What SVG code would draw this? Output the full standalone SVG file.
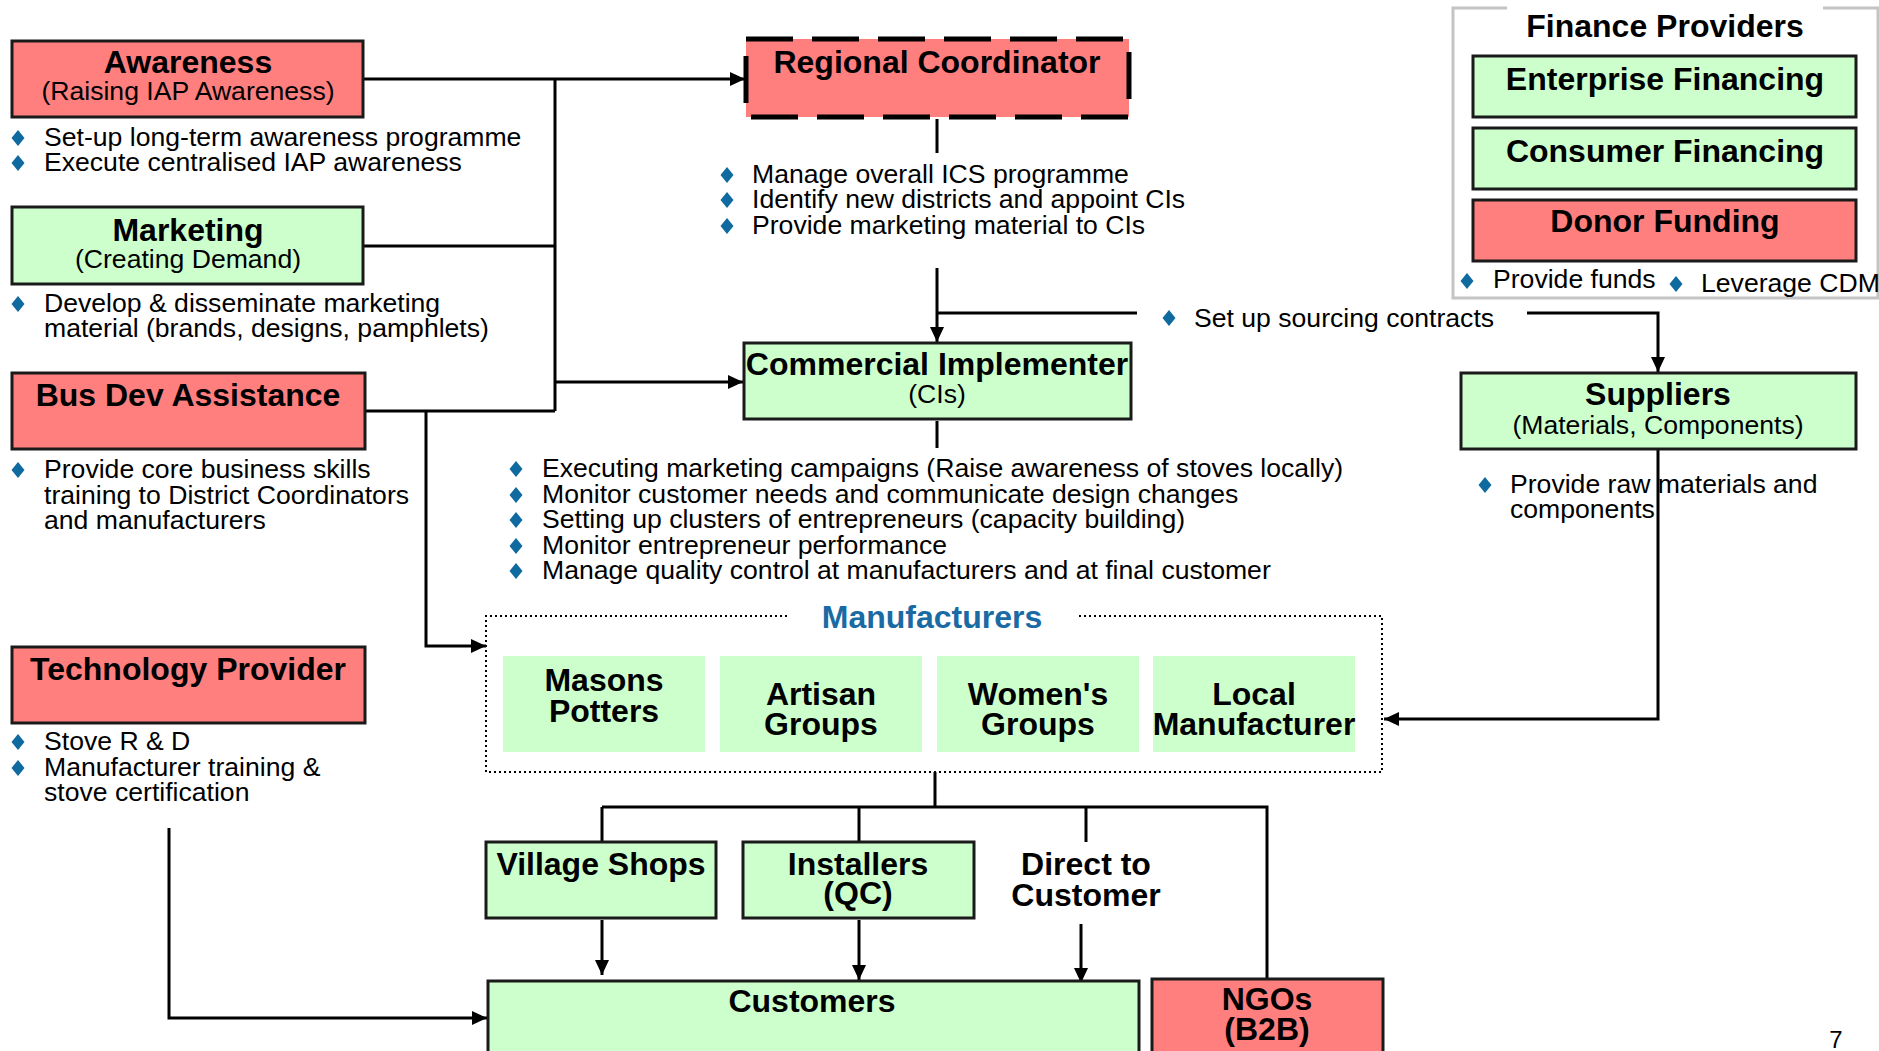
<svg xmlns="http://www.w3.org/2000/svg" xmlns:xlink="http://www.w3.org/1999/xlink" width="1879" height="1051" viewBox="0 0 1879 1051">
<style>
text{font-family:"Liberation Sans",Arial,sans-serif;fill:#000}
.h{font-size:32px;font-weight:bold;text-anchor:middle}
.s{font-size:26.6px;text-anchor:middle}
.b{font-size:26.6px}
.red{fill:#ff7f7f;stroke:#1a1a1a;stroke-width:3}
.grn{fill:#ccffcc;stroke:#1a1a1a;stroke-width:3}
.mf{fill:#ccffcc;stroke:none}
.ln{fill:none;stroke:#000;stroke-width:3}
.la{fill:none;stroke:#000;stroke-width:3;marker-end:url(#ah)}
.dm{fill:#0f6aa0}
</style>
<defs>
<marker id="ah" markerUnits="userSpaceOnUse" markerWidth="15" markerHeight="14" refX="15" refY="7" orient="auto"><path d="M0,0 L15,7 L0,14 Z" fill="#000"/></marker>
<path id="dia" d="M0,-8 L6.5,0 L0,8 L-6.5,0 Z"/>
</defs>
<rect width="1879" height="1051" fill="#fff"/>

<g id="connectors">
<path class="la" d="M363,79 H745"/>
<path class="ln" d="M363,246 H555"/>
<path class="ln" d="M555,79 V411"/>
<path class="ln" d="M365,411 H555"/>
<path class="la" d="M555,382 H743"/>
<path class="la" d="M426,411 V646 H486"/>
<path class="ln" d="M937,119 V153"/>
<path class="la" d="M937,268 V342"/>
<path class="ln" d="M937,313 H1137"/>
<path class="la" d="M1527,313 H1658 V372"/>
<path class="la" d="M1658,449 V719 H1384"/>
<path class="ln" d="M937,421 V448"/>
<path class="ln" d="M935,772 V807"/>
<path class="ln" d="M602,807 H1267 V979"/>
<path class="ln" d="M602,807 V842"/>
<path class="ln" d="M859,807 V842"/>
<path class="ln" d="M1086,807 V842"/>
<path class="la" d="M602,920 V975"/>
<path class="la" d="M859,920 V980"/>
<path class="la" d="M1081,924 V983"/>
<path class="la" d="M169,828 V1018 H487"/>
</g>

<g id="awareness">
<rect class="red" x="12" y="41" width="351" height="76"/>
<text class="h" x="188" y="73">Awareness</text>
<text class="s" x="188" y="100">(Raising IAP Awareness)</text>
<use href="#dia" class="dm" x="18" y="138"/>
<text class="b" x="44" y="146">Set-up long-term awareness programme</text>
<use href="#dia" class="dm" x="18" y="163"/>
<text class="b" x="44" y="171">Execute centralised IAP awareness</text>
</g>

<g id="marketing">
<rect class="grn" x="12" y="207" width="351" height="77"/>
<text class="h" x="188" y="241">Marketing</text>
<text class="s" x="188" y="268">(Creating Demand)</text>
<use href="#dia" class="dm" x="18" y="304"/>
<text class="b" x="44" y="312">Develop &amp; disseminate marketing</text>
<text class="b" x="44" y="337">material (brands, designs, pamphlets)</text>
</g>

<g id="busdev">
<rect class="red" x="12" y="373" width="353" height="76"/>
<text class="h" x="188" y="406">Bus Dev Assistance</text>
<use href="#dia" class="dm" x="18" y="470"/>
<text class="b" x="44" y="478">Provide core business skills</text>
<text class="b" x="44" y="504">training to District Coordinators</text>
<text class="b" x="44" y="529">and manufacturers</text>
</g>

<g id="techprovider">
<rect class="red" x="12" y="647" width="353" height="76"/>
<text class="h" x="188" y="680">Technology Provider</text>
<use href="#dia" class="dm" x="18" y="742"/>
<text class="b" x="44" y="750">Stove R &amp; D</text>
<use href="#dia" class="dm" x="18" y="768"/>
<text class="b" x="44" y="776">Manufacturer training &amp;</text>
<text class="b" x="44" y="801">stove certification</text>
</g>

<g id="regional">
<rect x="746" y="39" width="383" height="78" fill="#ff7f7f" stroke="#000" stroke-width="5" stroke-dasharray="47 19"/>
<text class="h" x="937" y="73">Regional Coordinator</text>
<use href="#dia" class="dm" x="727" y="175"/>
<text class="b" x="752" y="183">Manage overall ICS programme</text>
<use href="#dia" class="dm" x="727" y="200"/>
<text class="b" x="752" y="208">Identify new districts and appoint CIs</text>
<use href="#dia" class="dm" x="727" y="226"/>
<text class="b" x="752" y="234">Provide marketing material to CIs</text>
</g>

<g id="sourcing">
<use href="#dia" class="dm" x="1169" y="318"/>
<text class="b" x="1194" y="327">Set up sourcing contracts</text>
</g>

<g id="commercial">
<rect class="grn" x="744" y="343" width="387" height="76"/>
<text class="h" x="937" y="375">Commercial Implementer</text>
<text class="s" x="937" y="403">(CIs)</text>
<use href="#dia" class="dm" x="516" y="469"/>
<text class="b" x="542" y="477">Executing marketing campaigns (Raise awareness of stoves locally)</text>
<use href="#dia" class="dm" x="516" y="495"/>
<text class="b" x="542" y="503">Monitor customer needs and communicate design changes</text>
<use href="#dia" class="dm" x="516" y="520"/>
<text class="b" x="542" y="528">Setting up clusters of entrepreneurs (capacity building)</text>
<use href="#dia" class="dm" x="516" y="546"/>
<text class="b" x="542" y="554">Monitor entrepreneur performance</text>
<use href="#dia" class="dm" x="516" y="571"/>
<text class="b" x="542" y="579">Manage quality control at manufacturers and at final customer</text>
</g>

<g id="finance">
<path d="M1507,8 H1453 V298 H1878 V8 H1823" fill="none" stroke="#c4c4c4" stroke-width="3"/>
<text class="h" x="1665" y="37">Finance Providers</text>
<rect class="grn" x="1473" y="56" width="383" height="61"/>
<text class="h" x="1665" y="90">Enterprise Financing</text>
<rect class="grn" x="1473" y="128" width="383" height="61"/>
<text class="h" x="1665" y="162">Consumer Financing</text>
<rect class="red" x="1473" y="200" width="383" height="61"/>
<text class="h" x="1665" y="232">Donor Funding</text>
<use href="#dia" class="dm" x="1467" y="281"/>
<text class="b" x="1493" y="288">Provide funds</text>
<use href="#dia" class="dm" x="1676" y="284"/>
<text class="b" x="1701" y="292">Leverage CDM</text>
</g>

<g id="suppliers">
<rect class="grn" x="1461" y="373" width="395" height="76"/>
<text class="h" x="1658" y="405">Suppliers</text>
<text class="s" x="1658" y="434">(Materials, Components)</text>
<use href="#dia" class="dm" x="1485" y="485"/>
<text class="b" x="1510" y="493">Provide raw materials and</text>
<text class="b" x="1510" y="518">components</text>
</g>

<g id="manufacturers">
<path d="M787,616 H486 V772 H1382 V616 H1079" fill="none" stroke="#000" stroke-width="2" stroke-dasharray="2 3"/>
<text x="932" y="628" style="font-size:32px;font-weight:bold;text-anchor:middle;fill:#1a6aa3">Manufacturers</text>
<rect class="mf" x="503" y="656" width="202" height="96"/>
<text class="h" x="604" y="691">Masons</text>
<text class="h" x="604" y="722">Potters</text>
<rect class="mf" x="720" y="656" width="202" height="96"/>
<text class="h" x="821" y="705">Artisan</text>
<text class="h" x="821" y="735">Groups</text>
<rect class="mf" x="937" y="656" width="202" height="96"/>
<text class="h" x="1038" y="705">Women's</text>
<text class="h" x="1038" y="735">Groups</text>
<rect class="mf" x="1153" y="656" width="202" height="96"/>
<text class="h" x="1254" y="705">Local</text>
<text class="h" x="1254" y="735">Manufacturer</text>
</g>

<g id="village">
<rect class="grn" x="486" y="842" width="230" height="76"/>
<text class="h" x="601" y="875">Village Shops</text>
</g>

<g id="installers">
<rect class="grn" x="743" y="842" width="231" height="76"/>
<text class="h" x="858" y="875">Installers</text>
<text class="h" x="858" y="904">(QC)</text>
</g>

<g id="direct">
<text class="h" x="1086" y="875">Direct to</text>
<text class="h" x="1086" y="906">Customer</text>
</g>

<g id="customers">
<rect class="grn" x="488" y="981" width="651" height="80"/>
<text class="h" x="812" y="1012">Customers</text>
</g>

<g id="ngos">
<rect class="red" x="1152" y="979" width="231" height="82"/>
<text class="h" x="1267" y="1010">NGOs</text>
<text class="h" x="1267" y="1040">(B2B)</text>
</g>

<text x="1836" y="1048" style="font-size:24px;text-anchor:middle">7</text>
</svg>
